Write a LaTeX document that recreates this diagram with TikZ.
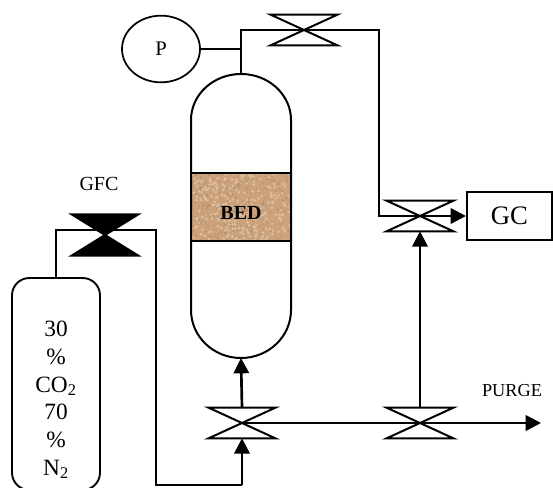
\documentclass[tikz,border=0pt]{standalone}
\usepackage{fontspec}
\setmainfont{Liberation Serif}
\usepackage{xcolor}
\usetikzlibrary{arrows.meta,shapes.geometric}

\definecolor{bedbrown}{HTML}{CBA27C}
\definecolor{bedlight}{HTML}{DDBE9E}
\definecolor{beddark}{HTML}{A98460}

\tikzset{
  pipe/.style={line width=2pt},
  thinpipe/.style={line width=1.3pt},
  flow/.style={line width=2pt, -{Triangle[length=11.5pt, width=11.5pt]}},
  vessel/.style={line width=1.5pt},
}

\newcommand{\valve}[5]{
\node[inner sep=0pt, minimum width=49.5pt, minimum height=#4] (#1) at (#2,#3) {};
\draw[line width=1.5pt, fill=#5] (#1.north west) -- (#1.south east) -- (#1.south west) -- (#1.north east) -- cycle;
}

\begin{document}
\begin{tikzpicture}[x=0.75pt, y=0.75pt]

\useasboundingbox (0,0) rectangle (553,487);

% bed packing
\fill[bedbrown] (191,246) rectangle (291,314);
\begin{scope}
\clip (191,246) rectangle (291,314);
\pgfmathsetseed{7}
\foreach \i in {1,...,260}{
  \pgfmathsetmacro{\px}{191+100*rnd}
  \pgfmathsetmacro{\py}{246+68*rnd}
  \fill[bedlight] (\px,\py) circle (1.1pt);
  \pgfmathsetmacro{\qx}{191+100*rnd}
  \pgfmathsetmacro{\qy}{246+68*rnd}
  \fill[beddark, opacity=0.6] (\qx,\qy) circle (0.7pt);
}
\end{scope}

% column
\coordinate (BedTop) at (241,413);
\coordinate (BedBottom) at (241,129);
\draw[vessel] (191,177) -- (191,367) arc[start angle=180, end angle=0, x radius=50, y radius=46] -- (291,177) arc[start angle=0, end angle=-180, x radius=50, y radius=48];
\draw[vessel] (191,314) -- (291,314);
\draw[vessel] (191,246) -- (291,246);
\node[font=\fontsize{15}{18}\selectfont\bfseries] (BED) at (241,274) {BED};

\node[ellipse, draw, line width=1.3pt, minimum width=58.5pt, minimum height=50pt, inner sep=0pt, font=\fontsize{15.5}{18}\selectfont] (P) at (161,438) {P};
\node[draw, line width=1.3pt, minimum width=64pt, minimum height=36pt, inner sep=0pt, font=\fontsize{20}{24}\selectfont] (GC) at (509.5,271) {GC};
\node[draw, line width=1.4pt, rounded corners=13pt, minimum width=66pt, minimum height=159pt, inner sep=0pt] (CYL) at (56,103) {};
\node[align=center, font=\fontsize{17.5}{20.8}\selectfont] (MIX) at (56,87) {30\\\%\\CO\textsubscript{2}\\70\\\%\\N\textsubscript{2}};

\node[font=\fontsize{15}{18}\selectfont] (GFC) at (99,303) {GFC};
\node[font=\fontsize{13.7}{16}\selectfont] (PURGE) at (512,96) {PURGE};

\coordinate (Junction) at (241,438);
\coordinate (TopCorner) at (241,457);
\coordinate (PurgeEnd) at (541,64);

% pipes under the valves
\draw[pipe] (BedTop) -- (TopCorner) -- (379,457) -- (379,271) -- (420,271);
\draw[thinpipe] (P.east) -- (Junction);
\draw[pipe] (CYL.north) -- (56,257) -- (156,257) -- (156,2) -- (242,2);

\valve{VT}{304}{457}{22.5pt}{white}
\valve{VG}{420}{271}{22.5pt}{white}
\valve{VL}{242}{64}{22.5pt}{white}
\valve{VB}{420}{64}{22.5pt}{white}
\valve{VF}{105}{252}{30.5pt}{black}

\draw[pipe] (VT.west) -- (VT.east);
\draw[thinpipe] (VL.center) -- (VB.center);
\draw[flow] (VB.center) -- (PurgeEnd);
\draw[flow] (VB.north) -- (VG.south);
\draw[flow] (VG.center) -- (GC.west);
\draw[flow] (VL.north) -- (BedBottom);
\draw[flow] (242,2) -- (VL.south);

\end{tikzpicture}
\end{document}
